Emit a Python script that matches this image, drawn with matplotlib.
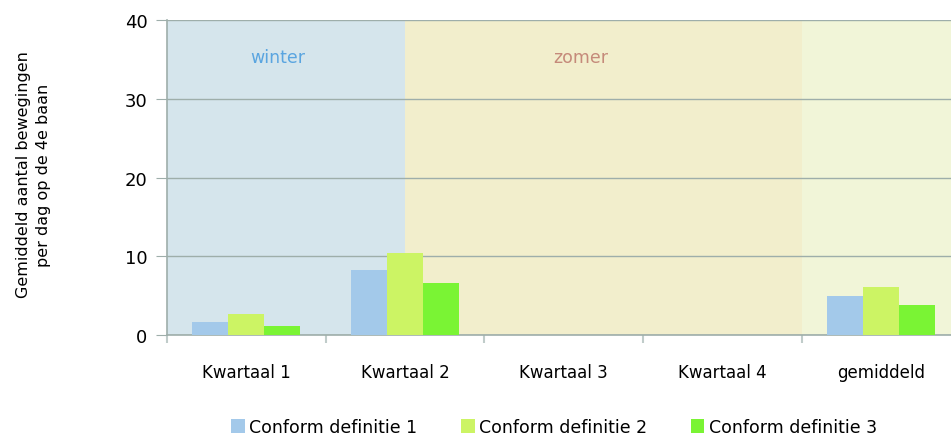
import numpy as np
import matplotlib
matplotlib.use("Agg")
import matplotlib.pyplot as plt
from matplotlib.patches import Patch

categories = ["Kwartaal 1", "Kwartaal 2", "Kwartaal 3", "Kwartaal 4", "gemiddeld"]
series_names = ["Conform definitie 1", "Conform definitie 2", "Conform definitie 3"]
def1 = [1.65, 8.3, 0, 0, 4.95]
def2 = [2.65, 10.4, 0, 0, 6.1]
def3 = [1.15, 6.6, 0, 0, 3.8]
season_labels = ["winter", "zomer"]

bar_colors = ["#A3C9EA", "#CCF464", "#7AF434"]
grid_color = "#9EAEAA"

fig = plt.figure(figsize=(9.51, 4.39), dpi=100)
ax = fig.add_axes([167 / 951, 1 - 336 / 439, 1 - 167 / 951, (336 - 21) / 439])

x = np.arange(len(categories))
width = 0.227
# season backgrounds
ax.axvspan(-0.5, 1.0, color="#D5E5EC", zorder=0, lw=0)
ax.axvspan(1.0, 3.5, color="#F2EECC", zorder=0, lw=0)
ax.axvspan(3.5, 5.0, color="#F1F5D8", zorder=0, lw=0)

for i, (vals, col) in enumerate(zip([def1, def2, def3], bar_colors)):
    ax.bar(x + (i - 1) * width, vals, width, color=col, zorder=3, lw=0)

ax.text(0.2, 35.3, season_labels[0], color="#5AA5E0", fontsize=12.5,
        ha="center", va="center")
ax.text(2.11, 35.3, season_labels[1], color="#C58A7A", fontsize=12.5,
        ha="center", va="center")

ax.set_xlim(-0.5, 4.44)
ax.set_ylim(0, 40)
ax.set_yticks([0, 10, 20, 30, 40])
ax.yaxis.grid(True, color=grid_color, lw=1, zorder=1)
ax.tick_params(axis="y", length=8, color=grid_color, labelsize=13, pad=6)

ax.set_xticks(x)
ax.set_xticklabels(categories, fontsize=12)
ax.tick_params(axis="x", which="major", length=0, pad=20)
ax.set_xticks(np.arange(-0.5, 4.5, 1.0), minor=True)
ax.tick_params(axis="x", which="minor", length=6, color="#C0CCCA", width=1.5)

for side in ["top", "right"]:
    ax.spines[side].set_visible(False)
ax.spines["left"].set_color(grid_color)
ax.spines["bottom"].set_color(grid_color)
ax.spines["left"].set_linewidth(1.2)
ax.spines["bottom"].set_linewidth(1.2)

fig.text(0.035, 1 - 175 / 439,
         "Gemiddeld aantal bewegingen\nper dag op de 4e baan",
         rotation=90, ha="center", va="center", fontsize=11.5,
         multialignment="center", linespacing=1.45)

handles = [Patch(facecolor=c, edgecolor="none") for c in bar_colors]
fig.legend(handles, series_names, loc="center", ncol=3,
           bbox_to_anchor=(0.5825, 0.025), frameon=False, fontsize=12.5,
           handlelength=0.8, handleheight=0.8, handletextpad=0.25,
           columnspacing=2.5)

fig.savefig("out.png", dpi=100)
